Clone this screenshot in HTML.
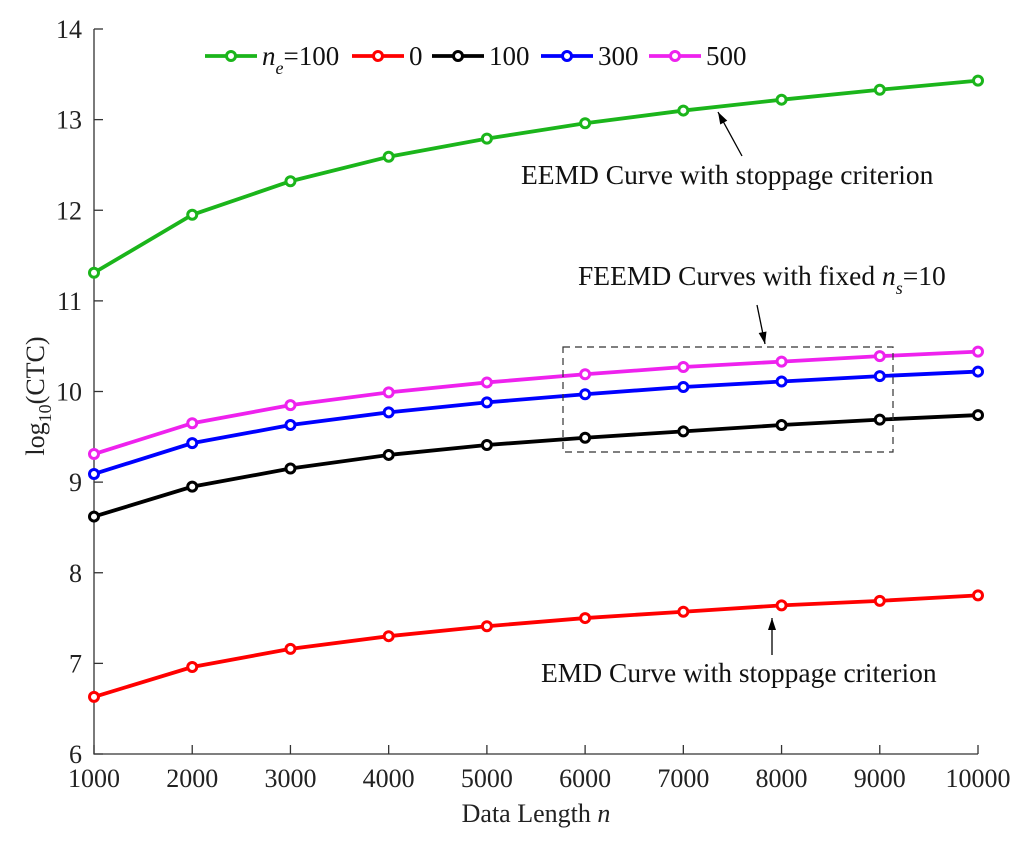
<!DOCTYPE html>
<html><head><meta charset="utf-8"><style>
html,body{margin:0;padding:0;background:#fff;}
svg{display:block;font-family:"Liberation Serif",serif;}
</style></head><body>
<svg id="chart" width="1024" height="843" viewBox="0 0 1024 843" xmlns="http://www.w3.org/2000/svg"></svg>
<script>
const xCats=[1000,2000,3000,4000,5000,6000,7000,8000,9000,10000];
const yTicks=[6,7,8,9,10,11,12,13,14];
const seriesGreen=[11.31,11.95,12.32,12.59,12.79,12.96,13.10,13.22,13.33,13.43];
const seriesRed=[6.63,6.96,7.16,7.30,7.41,7.50,7.57,7.64,7.69,7.75];
const seriesBlack=[8.62,8.95,9.15,9.30,9.41,9.49,9.56,9.63,9.69,9.74];
const seriesBlue=[9.09,9.43,9.63,9.77,9.88,9.97,10.05,10.11,10.17,10.22];
const seriesMagenta=[9.31,9.65,9.85,9.99,10.10,10.19,10.27,10.33,10.39,10.44];

const L=94,R=978,T=29,B=754;
const xs=v=>L+(v-1000)/9000*(R-L);
const ys=v=>B-(v-6)/8*(B-T);
const svg=document.getElementById('chart');
const NS='http://www.w3.org/2000/svg';
function mk(tag,attrs,parent){const e=document.createElementNS(NS,tag);for(const k in attrs)e.setAttribute(k,attrs[k]);(parent||svg).appendChild(e);return e;}

const ax=mk('path',{d:`M${L} ${T}V${B}H${R}`,stroke:'#333',fill:'none','stroke-width':1.3});


xCats.forEach(v=>{
  const x=xs(v);
  const t=mk('line',{x1:x,x2:x,y1:B,y2:B-9,stroke:'#333','stroke-width':1.3});
  
  
  const l=mk('text',{x:x,y:B+33,'text-anchor':'middle','font-size':26,fill:'#222'});
  l.textContent=v;
  
  
});
yTicks.forEach(v=>{
  const y=ys(v);
  const t=mk('line',{x1:L,x2:L+9,y1:y,y2:y,stroke:'#333','stroke-width':1.3});
  
  
  const l=mk('text',{x:L-12,y:y+9,'text-anchor':'end','font-size':26,fill:'#222'});
  l.textContent=v;
  
  
});
const xt=mk('text',{x:536,y:822,'text-anchor':'middle','font-size':26,fill:'#222'});
xt.innerHTML='Data Length <tspan font-style="italic">n</tspan>';


const yt=mk('text',{transform:'translate(44,396) rotate(-90)','text-anchor':'middle','font-size':26,fill:'#222'});
yt.innerHTML='log<tspan font-size="18" dy="7">10</tspan><tspan dy="-7">(CTC)</tspan>';



function drawSeries(vals,color,name){
  const g=mk('g',{});
  
  
  const d=vals.map((v,i)=>(i?'L':'M')+xs(xCats[i])+' '+ys(v)).join('');
  mk('path',{d:d,stroke:color,'stroke-width':3.8,fill:'none'},g);
  vals.forEach((v,i)=>{
    const c=mk('circle',{cx:xs(xCats[i]),cy:ys(v),r:4.5,stroke:color,'stroke-width':3,fill:'#fff'},g);
    
    
  });
}
drawSeries(seriesGreen,'#1bb51b','eemd-ne100-line');
drawSeries(seriesRed,'#ff0000','emd-line');
drawSeries(seriesBlack,'#000000','feemd-100-line');
drawSeries(seriesBlue,'#0000ff','feemd-300-line');
drawSeries(seriesMagenta,'#ee22ee','feemd-500-line');

const leg=[['#1bb51b',205,'<tspan font-style="italic">n</tspan><tspan font-style="italic" font-size="18" dy="9">e</tspan><tspan dy="-9">=100</tspan>'],
 ['#ff0000',352,'0'],['#000000',432,'100'],['#0000ff',541,'300'],['#ee22ee',649,'500']];
leg.forEach(([c,x,txt])=>{
  const g=mk('g',{});
  
  
  mk('line',{x1:x,x2:x+52,y1:56,y2:56,stroke:c,'stroke-width':3.8},g);
  mk('circle',{cx:x+26,cy:56,r:4.5,stroke:c,'stroke-width':3,fill:'#fff'},g);
  const t=mk('text',{x:x+57,y:65,'font-size':27,fill:'#111'},g);
  t.innerHTML=txt;
});

const box=mk('rect',{x:563,y:347,width:330,height:105,fill:'none',stroke:'#333','stroke-width':1.2,'stroke-dasharray':'7,5'});



function arrow(x1,y1,x2,y2,name){
  const g=mk('g',{});
  
  
  mk('line',{x1,y1,x2,y2,stroke:'#000','stroke-width':1.3},g);
  const a=Math.atan2(y2-y1,x2-x1),s=12,w=4;
  const bx=x2-s*Math.cos(a),by=y2-s*Math.sin(a);
  mk('polygon',{points:`${x2},${y2} ${bx-w*Math.sin(a)},${by+w*Math.cos(a)} ${bx+w*Math.sin(a)},${by-w*Math.cos(a)}`,fill:'#000'},g);
}
arrow(742,156,718,112,'eemd-arrow');
arrow(757,305,765,344,'feemd-arrow');
arrow(772,655,772,618,'emd-arrow');

function label(x,y,html,name){
  const t=mk('text',{x,y,'font-size':27.5,fill:'#111'});
  t.innerHTML=html;
  
  
}
label(521,184,'EEMD Curve with stoppage criterion','eemd-annotation');
label(578,285,'FEEMD Curves with fixed <tspan font-style="italic">n</tspan><tspan font-style="italic" font-size="18" dy="9">s</tspan><tspan dy="-9">=10</tspan>','feemd-annotation');
label(541,682,'EMD Curve with stoppage criterion','emd-annotation');
</script>
</body></html>
